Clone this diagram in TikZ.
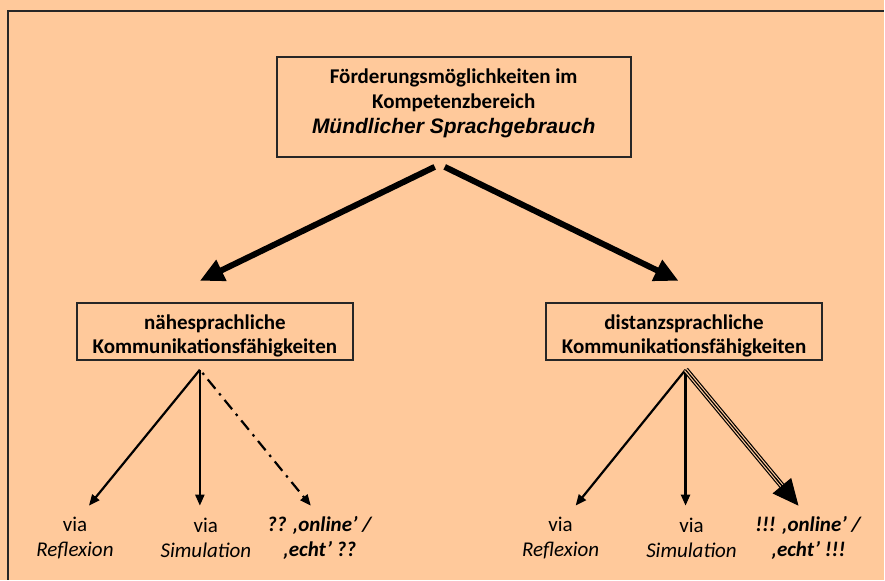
\documentclass[tikz,border=0pt]{standalone}
\usepackage{fontspec}
\setmainfont{Carlito}
\newfontfamily\arialfont{Liberation Sans}
\usepackage{tikz}
\usetikzlibrary{arrows.meta, positioning, calc}
\definecolor{peach}{RGB}{255,201,155}

\begin{document}
\begin{tikzpicture}[
        x=1pt, y=-1pt,
        box/.style={rectangle, draw=black!85, line width=1.5pt, fill=peach, align=center, inner sep=0pt, font=\fontsize{21}{25}\selectfont\bfseries},
        leaf/.style={align=center, inner sep=0pt, font=\fontsize{21}{25}\selectfont},
        bigarrow/.style={-{Triangle[length=24pt,width=22pt]}, line width=6pt},
        thinarrow/.style={-{Triangle[length=11pt,width=9pt]}, line width=2.2pt},
        dashdot/.style={thinarrow, dash pattern=on 12pt off 6pt on 2.5pt off 6pt},
        triple/.style={line width=6pt, postaction={draw=peach, line width=3.6pt}, postaction={draw=black, line width=1.2pt}}
    ]
    % background and frame
    \fill[peach] (0,0) rectangle (885,580);
    \draw[line width=1.2pt, black!85] (8,580) -- (8,11) -- (885,11);
    % boxes
    \node[box, line width=2pt, minimum width=354pt, minimum height=100pt] (top) at (454,107) {F\"orderungsm\"oglichkeiten im\\Kompetenzbereich\\{\arialfont\itshape M\"undlicher Sprachgebrauch}\rule[-11pt]{0pt}{1pt}};
    \node[box, minimum width=276pt, minimum height=57pt] (near) at (215,331.5) {\rule{0pt}{24pt}n\"ahesprachliche\\Kommunikationsf\"ahigkeiten};
    \node[box, minimum width=276pt, minimum height=57pt] (dist) at (684.5,331.5) {\rule{0pt}{24pt}distanzsprachliche\\Kommunikationsf\"ahigkeiten};
    % leaves
    \node[leaf] (nearrefl) at (75,538) {via\\\textit{Reflexion}};
    \node[leaf] (nearsim) at (206,538) {via\\\textit{Simulation}};
    \node[leaf] (nearonline) at (320,538) {\textbf{\textit{?? ‚online’ /}}\\\textbf{\textit{‚echt’ ??}}};
    \node[leaf] (distrefl) at (561,538) {via\\\textit{Reflexion}};
    \node[leaf] (distsim) at (692,538) {via\\\textit{Simulation}};
    \node[leaf] (distonline) at (809,538) {\textbf{\textit{!!! ‚online’ /}}\\\textbf{\textit{‚echt’ !!!}}};
    % connector ends
    \coordinate (topleft) at (435,167);
    \coordinate (topright) at (445,167);
    \coordinate (neartip) at (200,281);
    \coordinate (disttip) at (679,281);
    \coordinate (nearapex) at (200,370);
    \coordinate (distapex) at (686,370);
    \coordinate (nearrefltip) at (89,506);
    \coordinate (nearsimtip) at (200,506);
    \coordinate (nearonlinetip) at (311,506);
    \coordinate (distrefltip) at (576,506);
    \coordinate (distsimtip) at (686,506);
    \coordinate (distonlinetip) at (799,506);
    \coordinate (distonlineback) at ($(distapex)!0.8!(distonlinetip)$);
    % arrows
    \draw[bigarrow] (topleft) -- (neartip);
    \draw[bigarrow] (topright) -- (disttip);
    \draw[thinarrow] (nearapex) -- (nearrefltip);
    \draw[thinarrow] (nearapex) -- (nearsimtip);
    \draw[dashdot, dash phase=14pt] (nearapex) -- (nearonlinetip);
    \draw[thinarrow] (distapex) -- (distrefltip);
    \draw[thinarrow] (distapex) -- (distsimtip);
    \draw[triple, shorten >=18pt] (distapex) -- (distonlinetip);
    \draw[-{Triangle[length=26pt,width=24pt]}, line width=1pt] (distonlineback) -- (distonlinetip);
\end{tikzpicture}
\end{document}
